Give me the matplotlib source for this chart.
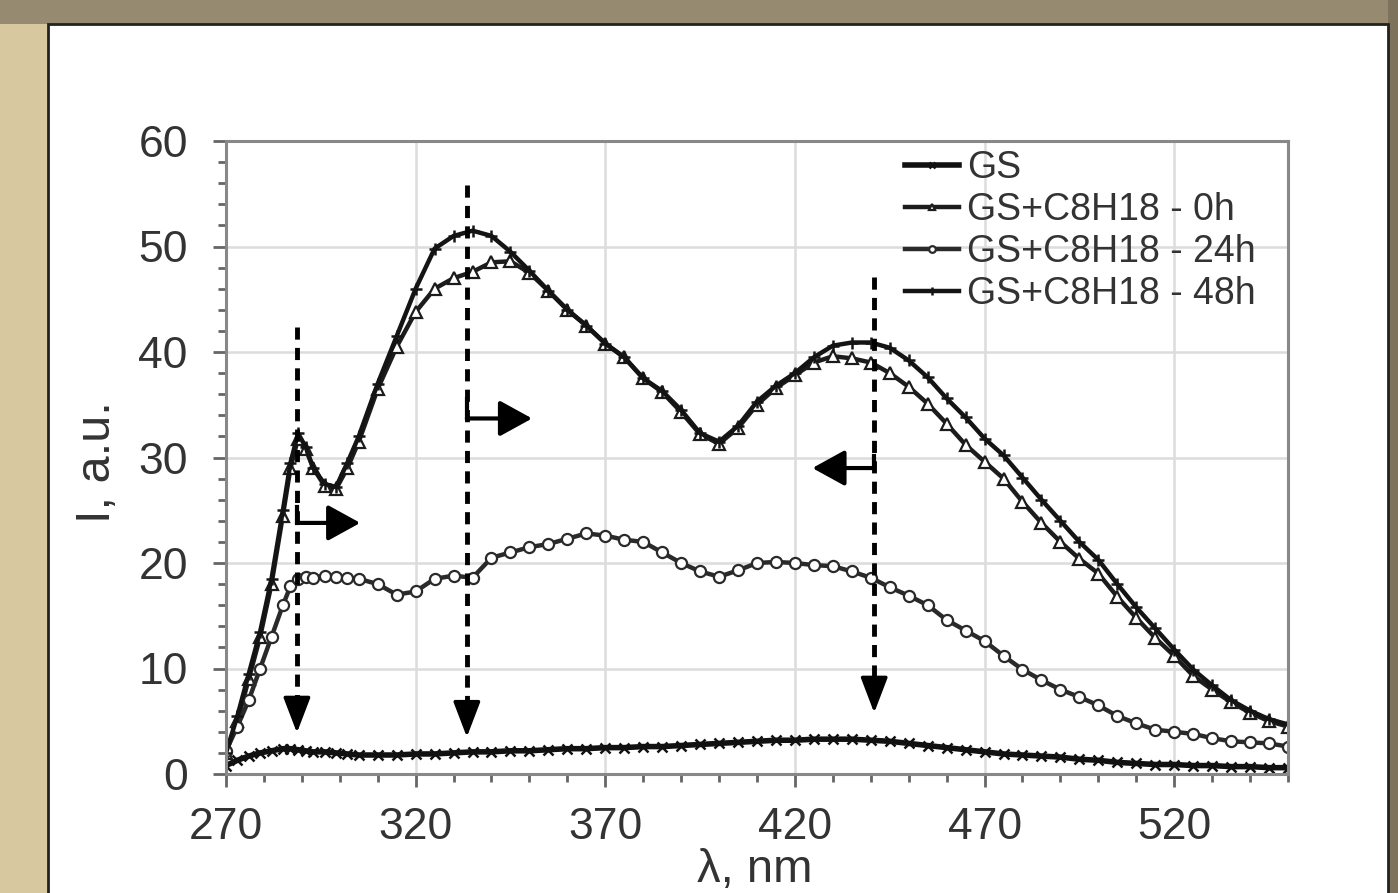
import matplotlib
matplotlib.use('Agg')
import matplotlib.pyplot as plt
from matplotlib.patches import Rectangle
from matplotlib.ticker import MultipleLocator

# wavelength, nm
wl = [270, 273, 276, 279, 282, 285, 287, 289, 291, 293, 296, 299, 302, 305,
      310, 315, 320, 325, 330, 335, 340, 345, 350, 355, 360, 365, 370, 375,
      380, 385, 390, 395, 400, 405, 410, 415, 420, 425, 430, 435, 440, 445,
      450, 455, 460, 465, 470, 475, 480, 485, 490, 495, 500, 505, 510, 515,
      520, 525, 530, 535, 540, 545, 550]

gs = [0.8, 1.3, 1.7, 2.0, 2.2, 2.4, 2.4, 2.3, 2.2, 2.1, 2.1, 2.0, 1.9, 1.8,
      1.8, 1.8, 1.9, 1.9, 2.0, 2.1, 2.1, 2.2, 2.2, 2.3, 2.4, 2.4, 2.5, 2.5,
      2.6, 2.6, 2.7, 2.8, 2.9, 3.0, 3.1, 3.2, 3.2, 3.3, 3.3, 3.3, 3.2, 3.1,
      2.9, 2.7, 2.5, 2.3, 2.1, 1.9, 1.8, 1.7, 1.6, 1.4, 1.3, 1.1, 1.0, 0.9,
      0.9, 0.8, 0.8, 0.7, 0.7, 0.6, 0.6]

h0 = [2.0, 5.0, 9.0, 13.0, 18.0, 24.5, 29.0, 31.8, 30.8, 29.0, 27.3, 27.0, 29.0, 31.5,
      36.5, 40.5, 43.8, 46.0, 47.0, 47.6, 48.5, 48.6, 47.5, 45.8, 44.0, 42.5, 40.8, 39.5,
      37.5, 36.2, 34.3, 32.2, 31.3, 32.8, 35.0, 36.6, 37.8, 39.0, 39.6, 39.4, 39.0, 38.0,
      36.7, 35.1, 33.2, 31.2, 29.6, 28.0, 25.8, 23.8, 22.0, 20.4, 19.0, 16.8, 14.8, 12.9,
      11.2, 9.3, 8.0, 6.8, 5.8, 5.0, 4.5]

h24 = [2.2, 4.5, 7.0, 10.0, 13.0, 16.0, 17.8, 18.5, 18.7, 18.6, 18.8, 18.7, 18.6, 18.5,
       18.0, 17.0, 17.3, 18.5, 18.8, 18.6, 20.5, 21.0, 21.5, 21.8, 22.3, 22.8, 22.6, 22.2,
       22.0, 21.0, 20.0, 19.2, 18.7, 19.3, 20.0, 20.1, 20.0, 19.8, 19.7, 19.2, 18.6, 17.7,
       16.9, 16.0, 14.6, 13.6, 12.6, 11.2, 9.9, 8.9, 8.0, 7.3, 6.5, 5.5, 4.8, 4.2,
       4.0, 3.8, 3.4, 3.1, 3.0, 2.9, 2.6]

h48 = [2.0, 5.5, 9.5, 13.5, 18.5, 25.0, 29.5, 32.3, 31.0, 29.0, 27.5, 27.2, 29.5, 32.0,
       37.0, 41.5, 46.0, 49.8, 51.0, 51.5, 51.0, 49.5, 47.7, 45.8, 44.0, 42.5, 40.8, 39.5,
       37.5, 36.3, 34.5, 32.3, 31.5, 33.0, 35.3, 36.8, 38.0, 39.5, 40.6, 40.9, 40.9, 40.4,
       39.2, 37.6, 35.6, 33.8, 31.8, 30.2, 28.1, 26.0, 24.0, 22.0, 20.3, 18.0, 15.8, 13.8,
       11.8, 9.9, 8.4, 7.0, 6.0, 5.2, 4.7]

labels = ['GS', 'GS+C8H18 - 0h', 'GS+C8H18 - 24h', 'GS+C8H18 - 48h']

# peak positions marked with dashed arrows (nm, top, bottom)
peak_marks = [(288.7, 42.4, 3.9), (333.5, 55.8, 3.5), (440.9, 47.1, 5.8)]
# shift arrows (x start, y top of hook, y, x end)
shift_marks = [(288.7, 25.3, 23.8, 305.4), (333.5, 35.5, 33.7, 350.7), (440.9, 30.1, 29.0, 424.6)]

plt.rcParams['font.family'] = ['Liberation Sans', 'DejaVu Sans']

fig = plt.figure(figsize=(13.98, 8.93), dpi=100, facecolor='#d8c8a0')
W, H = 1398, 893
fig.patches.append(Rectangle((0, 1 - 24 / H), 1, 24 / H, transform=fig.transFigure,
                             facecolor='#968a70', edgecolor='none', zorder=0))
fig.patches.append(Rectangle((1388 / W, 0), 10 / W, 1, transform=fig.transFigure,
                             facecolor='#7d725c', edgecolor='none', zorder=0))
fig.patches.append(Rectangle((48 / W, -0.01), (1388 - 48) / W, 1.01 - 24 / H,
                             transform=fig.transFigure, facecolor='white',
                             edgecolor='#222222', linewidth=2, zorder=1))

ax = fig.add_axes([226 / W, 1 - 774 / H, (1288 - 226) / W, (774 - 141) / H])
ax.set_zorder(2)
ax.set_facecolor('white')

styles = [
    dict(marker='x', ms=7, mew=1.8, mfc='none', color='#111111', lw=4.0),
    dict(marker='^', ms=8, mew=1.6, mfc='white', color='#1c1c1c', lw=3.2),
    dict(marker='o', ms=8, mew=1.6, mfc='white', color='#2a2a2a', lw=3.2),
    dict(marker='+', ms=9, mew=1.8, mfc='none', color='#141414', lw=3.2),
]
for y, lab, st in zip([gs, h0, h24, h48], labels, styles):
    ax.plot(wl, y, label=lab, **st)

ax.set_xlim(270, 550)
ax.set_ylim(0, 60)
ax.xaxis.set_major_locator(MultipleLocator(50))
ax.xaxis.set_minor_locator(MultipleLocator(10))
ax.yaxis.set_major_locator(MultipleLocator(10))
ax.yaxis.set_minor_locator(MultipleLocator(2))
ax.set_xticks([270, 320, 370, 420, 470, 520])
ax.grid(True, which='major', color='#dcdcdc', lw=1.8)
ax.set_axisbelow(True)
ax.tick_params(which='major', direction='out', length=9.5, width=2, color='#666666',
               labelsize=32, labelcolor='#333333')
ax.tick_params(axis='y', which='major', pad=18)
ax.tick_params(axis='x', which='major', pad=14)
ax.tick_params(which='minor', direction='out', length=6, width=2, color='#666666')
for s in ax.spines.values():
    s.set_color('#888888')
    s.set_linewidth(2.2)

ax.set_xlabel('λ, nm', fontsize=34, color='#333333')
ax.set_ylabel('I, a.u.', fontsize=35, color='#333333')
ax.xaxis.set_label_coords(0.498, -0.117)
ax.yaxis.set_label_coords(-0.100, 0.493)

for x, ytop, ybot in peak_marks:
    ax.plot([x, x], [ytop, ybot + 2.0], color='black', lw=3.5, linestyle='--',
            dashes=(2.5, 1.7), zorder=5)
    ax.annotate('', xy=(x, ybot), xytext=(x, ybot + 2.4),
                arrowprops=dict(arrowstyle='-|>,head_length=1.1,head_width=0.42',
                                color='black', lw=2.5, mutation_scale=20,
                                shrinkA=0, shrinkB=0), zorder=5)

for x, ytop, y, xend in shift_marks:
    ax.plot([x, x], [ytop, y], color='black', lw=3, zorder=5)
    ax.annotate('', xy=(xend, y), xytext=(x, y),
                arrowprops=dict(arrowstyle='-|>,head_length=1.0,head_width=0.55',
                                color='black', lw=3, mutation_scale=20,
                                shrinkA=0, shrinkB=0), zorder=5)

ax.legend(loc='upper left', bbox_to_anchor=(905 / W, 1 - 150 / H),
          bbox_transform=fig.transFigure, frameon=False, fontsize=27,
          handlelength=1.45, handletextpad=0.2, labelspacing=0.16,
          borderpad=0, borderaxespad=0, markerscale=0.6,
          labelcolor='#333333')

fig.savefig('out.png', dpi=100, facecolor=fig.get_facecolor())
